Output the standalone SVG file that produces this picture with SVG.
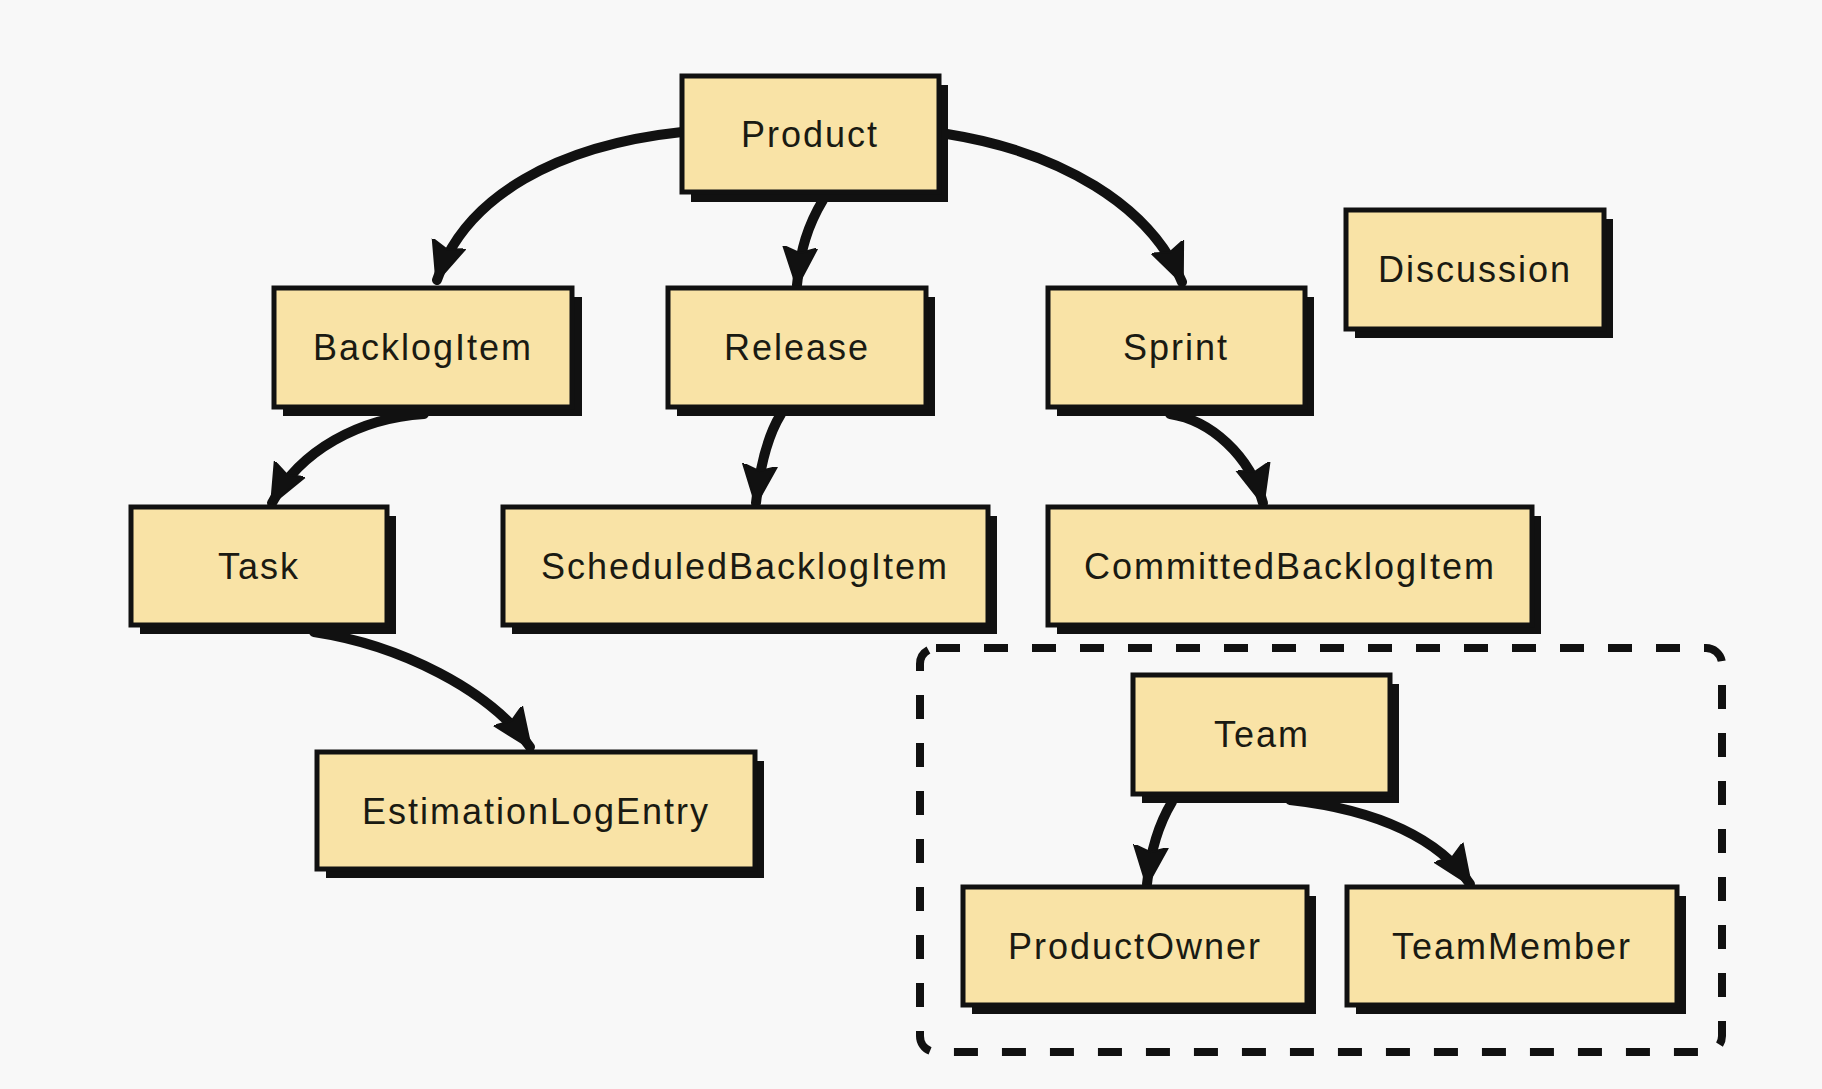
<svg xmlns="http://www.w3.org/2000/svg" width="1822" height="1089" viewBox="0 0 1822 1089">
<style>
.bg{fill:#f8f8f8}
.shadow{fill:#111}
.box{fill:#f9e3a6;stroke:#111;stroke-width:5}
.lbl{font-family:"Liberation Sans",Arial,sans-serif;font-size:36px;letter-spacing:2px;fill:#1a1a12;text-anchor:middle;dominant-baseline:central}
.edge{fill:none;stroke:#111;stroke-width:10;stroke-linecap:round;marker-end:url(#arr)}
.group{fill:none;stroke:#111;stroke-width:8;stroke-dasharray:24 24}
</style>
<defs>
<marker id="arr" markerUnits="userSpaceOnUse" viewBox="0 0 40 40" refX="38" refY="20" markerWidth="40" markerHeight="40" orient="auto">
<path d="M0,3 L40,20 L0,37 L6,20 Z" fill="#111" stroke="#111" stroke-width="2" stroke-linejoin="round"/>
</marker>
</defs>
<rect class="bg" x="0" y="0" width="1822" height="1089"/>
<rect class="group" x="920" y="648" width="802" height="404" rx="16"/>
<g id="connectors">
<path class="edge" d="M682,132 C560,145 465,195 437,280"/>
<path class="edge" d="M823,200 C808,225 800,250 797,285"/>
<path class="edge" d="M947,134 C1060,152 1150,205 1182,282"/>
<path class="edge" d="M424,414 C360,418 300,450 272,503"/>
<path class="edge" d="M781,414 C768,435 760,465 756,503"/>
<path class="edge" d="M1170,414 C1210,420 1250,455 1263,503"/>
<path class="edge" d="M314,632 C400,645 490,690 530,747"/>
<path class="edge" d="M1172,802 C1158,825 1150,855 1147,884"/>
<path class="edge" d="M1290,800 C1380,810 1440,840 1470,884"/>
</g>
<g id="node-product"><rect class="shadow" x="691" y="85" width="257" height="117"/><rect class="box" x="682" y="76" width="257" height="116"/><text class="lbl" x="810" y="134">Product</text></g>
<g id="node-backlogitem"><rect class="shadow" x="283" y="297" width="299" height="119"/><rect class="box" x="274" y="288" width="298" height="119"/><text class="lbl" x="423" y="347">BacklogItem</text></g>
<g id="node-release"><rect class="shadow" x="677" y="297" width="258" height="119"/><rect class="box" x="668" y="288" width="258" height="119"/><text class="lbl" x="797" y="347">Release</text></g>
<g id="node-sprint"><rect class="shadow" x="1057" y="297" width="257" height="119"/><rect class="box" x="1048" y="288" width="257" height="119"/><text class="lbl" x="1176" y="347">Sprint</text></g>
<g id="node-discussion"><rect class="shadow" x="1355" y="219" width="258" height="119"/><rect class="box" x="1346" y="210" width="258" height="119"/><text class="lbl" x="1475" y="269">Discussion</text></g>
<g id="node-task"><rect class="shadow" x="140" y="516" width="256" height="118"/><rect class="box" x="131" y="507" width="256" height="118"/><text class="lbl" x="259" y="566">Task</text></g>
<g id="node-scheduledbacklogitem"><rect class="shadow" x="512" y="516" width="485" height="118"/><rect class="box" x="503" y="507" width="485" height="118"/><text class="lbl" x="745" y="566">ScheduledBacklogItem</text></g>
<g id="node-committedbacklogitem"><rect class="shadow" x="1057" y="516" width="484" height="118"/><rect class="box" x="1048" y="507" width="484" height="118"/><text class="lbl" x="1290" y="566">CommittedBacklogItem</text></g>
<g id="node-estimationlogentry"><rect class="shadow" x="326" y="761" width="438" height="117"/><rect class="box" x="317" y="752" width="438" height="117"/><text class="lbl" x="536" y="811">EstimationLogEntry</text></g>
<g id="node-team"><rect class="shadow" x="1142" y="684" width="257" height="119"/><rect class="box" x="1133" y="675" width="257" height="119"/><text class="lbl" x="1262" y="734">Team</text></g>
<g id="node-productowner"><rect class="shadow" x="972" y="896" width="344" height="118"/><rect class="box" x="963" y="887" width="344" height="118"/><text class="lbl" x="1135" y="946">ProductOwner</text></g>
<g id="node-teammember"><rect class="shadow" x="1356" y="896" width="330" height="118"/><rect class="box" x="1347" y="887" width="330" height="118"/><text class="lbl" x="1512" y="946">TeamMember</text></g>
</svg>
